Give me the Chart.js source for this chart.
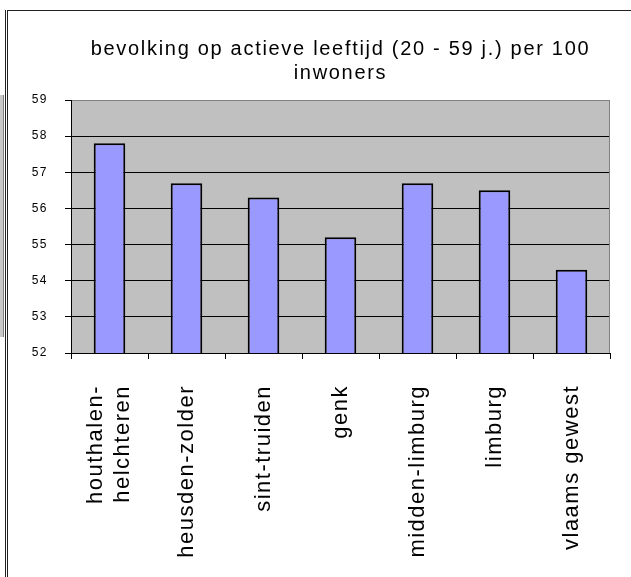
<!DOCTYPE html>
<html>
<head>
<meta charset="utf-8">
<script src="https://cdn.jsdelivr.net/npm/chart.js@4"></script>
<style>
  body { margin: 0; background: #fff; }
  #wrap { position: relative; width: 631px; height: 577px; overflow: hidden; }
  .ln { position: absolute; background: #222; }
  canvas { position: absolute; left: 0; top: 0; }
</style>
</head>
<body>
<div id="wrap">
  <div class="ln" style="left:5px;top:10px;width:1px;height:567px;"></div>
  <div class="ln" style="left:7px;top:10px;width:1px;height:567px;"></div>
  <div class="ln" style="left:7px;top:10px;width:624px;height:1px;"></div>
  <div style="position:absolute;left:0;top:95px;width:3px;height:242px;background:#c8c8c8;border-right:1px solid #808080;"></div>
  <canvas id="grafiek" width="631" height="577"></canvas>
</div>
<script>
// --- DADOS ---
const gemeenten = [
    ['houthalen-', 'helchteren'],
    'heusden-zolder',
    'sint-truiden',
    'genk',
    'midden-limburg',
    'limburg',
    'vlaams gewest'
];
const waarden = [57.8, 56.7, 56.3, 55.2, 56.7, 56.5, 54.3];
const titel = ['bevolking op actieve leeftijd (20 - 59 j.) per 100', 'inwoners'];
const yMin = 52;
const yMax = 59;

const lettertype = '"Liberation Sans", Arial, sans-serif';

// achtergrond van het plotgebied, titel en letterafstand
const plotAchtergrond = {
    id: 'plotAchtergrond',
    beforeLayout(chart) {
        chart.ctx.letterSpacing = '1.5px';
    },
    afterLayout(chart) {
        // labels met twee regels centreren rond hun streepje
        const items = chart.scales.x.getLabelItems();
        items.forEach(item => {
            if (Array.isArray(item.label)) {
                item.options.translation[0] -= item.font.lineHeight * (item.label.length - 1) / 2;
            }
        });
    },
    beforeDraw(chart) {
        const { ctx, chartArea: a } = chart;
        ctx.letterSpacing = '1.5px';
        ctx.save();
        ctx.fillStyle = '#c0c0c0';
        ctx.fillRect(a.left, a.top, a.right - a.left, a.bottom - a.top);

        // titel gecentreerd boven het plotgebied
        ctx.letterSpacing = '1.7px';
        ctx.fillStyle = '#000';
        ctx.font = '20px ' + lettertype;
        ctx.textAlign = 'center';
        ctx.textBaseline = 'middle';
        const midden = (a.left + a.right) / 2;
        titel.forEach((regel, i) => ctx.fillText(regel, midden, 49 + i * 24));
        ctx.restore();
    },
    beforeDatasetsDraw(chart) {
        const { ctx, chartArea: a } = chart;
        ctx.save();
        ctx.strokeStyle = '#808080';
        ctx.lineWidth = 1;
        ctx.beginPath();
        ctx.moveTo(a.right - 0.5, a.top);
        ctx.lineTo(a.right - 0.5, a.bottom);
        ctx.stroke();
        ctx.restore();
    }
};

new Chart(document.getElementById('grafiek'), {
    type: 'bar',
    data: {
        labels: gemeenten,
        datasets: [{
            data: waarden,
            backgroundColor: '#9999ff',
            borderColor: '#000',
            borderWidth: 2,
            borderSkipped: false,
            categoryPercentage: 1,
            barPercentage: 0.41
        }]
    },
    options: {
        responsive: false,
        animation: false,
        devicePixelRatio: 1,
        layout: { padding: { left: 0, right: 21, top: 100, bottom: 0 } },
        plugins: {
            legend: { display: false },
            tooltip: { enabled: false },
            title: { display: false }
        },
        scales: {
            x: {
                grid: {
                    offset: true,
                    drawOnChartArea: false,
                    tickLength: 6,
                    tickColor: '#000'
                },
                border: { color: '#000', width: 1 },
                ticks: {
                    color: '#000',
                    font: { family: lettertype, size: 22 },
                    minRotation: 90,
                    maxRotation: 90,
                    padding: 26,
                    autoSkip: false
                },
                afterFit(scale) { scale.height = 224; }
            },
            y: {
                min: yMin,
                max: yMax,
                grid: {
                    color: (c) => c.tick && c.tick.value === yMax ? '#808080' : '#000',
                    tickColor: '#000',
                    tickLength: 6
                },
                border: { color: '#000', width: 1 },
                ticks: {
                    stepSize: 1,
                    color: '#000',
                    font: { family: lettertype, size: 12 },
                    padding: 17
                },
                afterFit(scale) { scale.width = 71; }
            }
        }
    },
    plugins: [plotAchtergrond]
});
</script>
</body>
</html>
